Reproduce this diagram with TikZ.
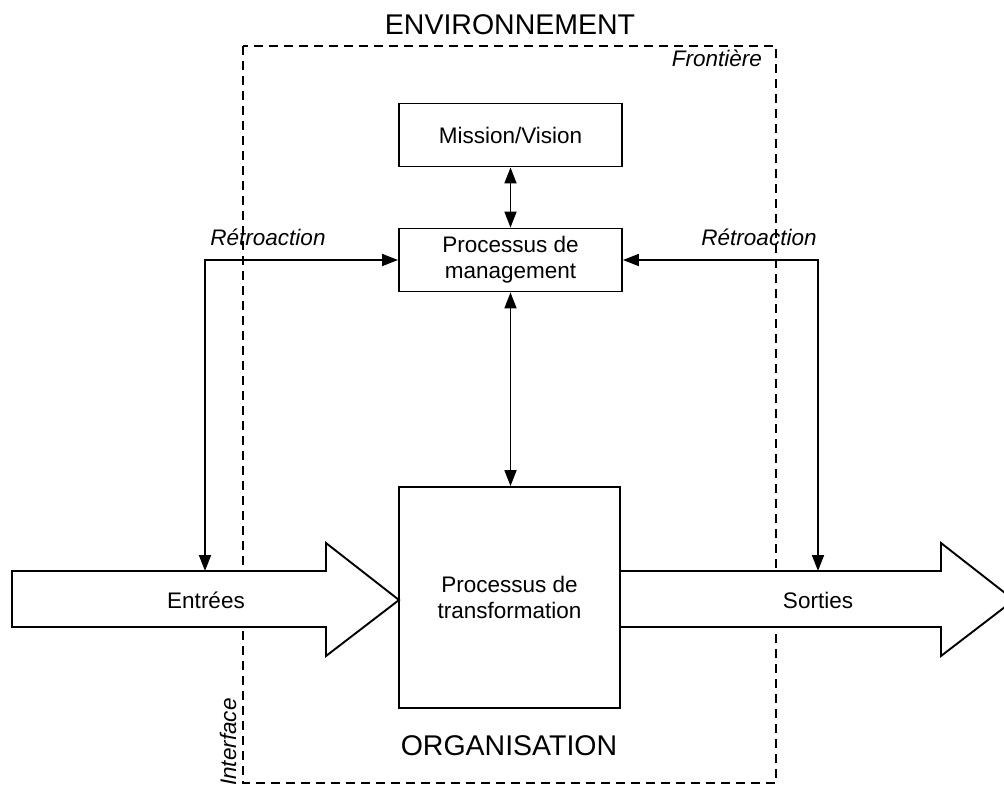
\documentclass[tikz,border=0pt]{standalone}
\usepackage{fontspec}
\setmainfont{Liberation Sans}
\usetikzlibrary{arrows.meta}
\begin{document}
\begin{tikzpicture}[x=1pt,y=-1pt,
  box/.style={draw,line width=1.9pt,inner sep=0pt,align=center,font=\fontsize{22.5}{26}\selectfont},
  lbl/.style={inner sep=0pt,font=\fontsize{22.5}{26}\selectfont\itshape},
  big/.style={inner sep=0pt,font=\fontsize{28.5}{32}\selectfont},
  txt/.style={inner sep=0pt,font=\fontsize{22.5}{26}\selectfont},
  bigarrow/.style={draw,fill=white,line width=1.9pt,line join=miter},
  dblarr/.style={line width=1.8pt,{Triangle[length=16pt,width=12pt]}-{Triangle[length=16pt,width=12pt]}},
  boundary/.style={draw,line width=1.6pt,dash pattern=on 9pt off 6pt}]
\useasboundingbox (0,0) rectangle (1004,785);
% boundary
\draw[boundary] (243,46) rectangle (776,783);
\node[big,anchor=base] (env) at (510,34) {ENVIRONNEMENT};
\node[lbl,anchor=base east] (front) at (762,66) {Frontière};
\node[big,anchor=base] (org) at (509,755) {ORGANISATION};
\node[lbl,anchor=base west,rotate=90] (interf) at (236,786) {Interface};
% boxes
\node[box,minimum width=223pt,minimum height=63pt] (mission) at (510.5,135) {Mission/Vision};
\node[box,minimum width=223pt,minimum height=63pt] (mgmt) at (510.5,260) {Processus de\\management};
\node[box,minimum width=221pt,minimum height=221pt] (transfo) at (509.5,597.5) {Processus de\\transformation};
% big arrows
\draw[bigarrow] (12,571) -- (326,571) -- (326,543) -- (399,600) -- (326,656) -- (326,627) -- (12,627) -- cycle;
\node[txt] (entrees) at (206,600) {Entrées};
\draw[bigarrow] (620,571) -- (941,571) -- (941,543) -- (1014,600) -- (941,656) -- (941,627) -- (620,627) -- cycle;
\node[txt] (sorties) at (818,600) {Sorties};
\coordinate (entTop) at (205,571);
\coordinate (sortTop) at (818,571);
% connectors
\draw[dblarr] (mission.south) -- (mgmt.north);
\draw[dblarr] (mgmt.south) -- (mgmt.south |- transfo.north);
\draw[dblarr] (entTop) |- (mgmt.west);
\draw[dblarr] (sortTop) |- (mgmt.east);
\node[lbl,anchor=base] (retroL) at (268,245) {Rétroaction};
\node[lbl,anchor=base] (retroR) at (759,245) {Rétroaction};
\end{tikzpicture}
\end{document}
